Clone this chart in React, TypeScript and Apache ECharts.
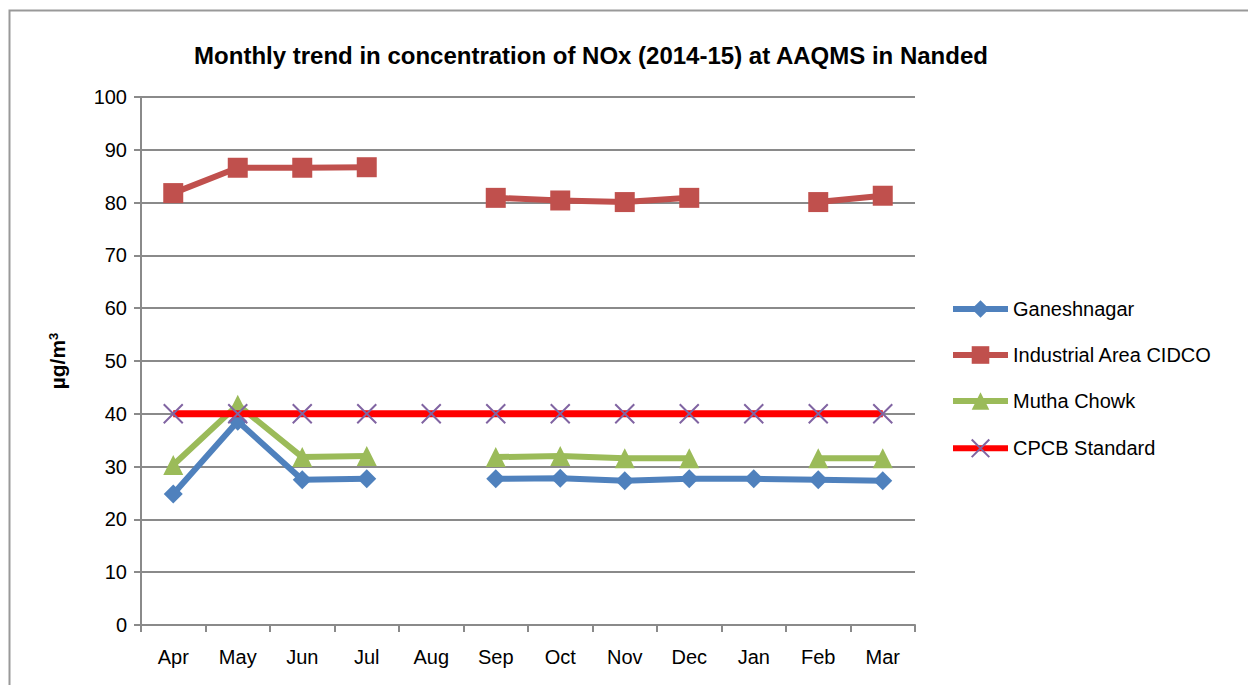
import React, { useEffect, useRef } from "react";
import * as echarts from "echarts";

const months = ["Apr", "May", "Jun", "Jul", "Aug", "Sep", "Oct", "Nov", "Dec", "Jan", "Feb", "Mar"];
const ganeshnagar = [24.8, 38.6, 27.5, 27.7, null, 27.7, 27.8, 27.3, 27.7, 27.7, 27.5, 27.3];
const industrialCidco = [81.8, 86.6, 86.6, 86.7, null, 80.9, 80.4, 80.1, 80.9, null, 80.1, 81.3];
const muthaChowk = [30.3, 41.7, 31.8, 32.0, null, 31.8, 32.0, 31.6, 31.6, null, 31.6, 31.6];
const cpcbStandard = [40, 40, 40, 40, 40, 40, 40, 40, 40, 40, 40, 40];
const yTicks = { min: 0, max: 100, interval: 10 };
const seriesNames = ["Ganeshnagar", "Industrial Area CIDCO", "Mutha Chowk", "CPCB Standard"];

const FONT = "'Liberation Sans', Arial, sans-serif";

export default function App() {
  const ref = useRef<HTMLDivElement>(null);
  useEffect(() => {
    if (!ref.current) return;
    const chart = echarts.init(ref.current, null, { renderer: "svg" });
    const grey = "#8a8a8a";
    chart.setOption({
      animation: false,
      backgroundColor: "#ffffff",
      title: {
        text: "Monthly trend in concentration of NOx (2014-15) at AAQMS in Nanded",
        left: 586,
        textAlign: "center",
        top: 38,
        textStyle: { fontFamily: FONT, fontWeight: "bold", fontSize: 24, color: "#000" },
      },
      graphic: [
        {
          type: "rect",
          shape: { x: 9.5, y: 10.5, width: 1260, height: 700 },
          style: { fill: "none", stroke: "#999", lineWidth: 2 },
          silent: true,
          z: -10,
        },
      ],
      legend: {
        orient: "vertical",
        left: 945,
        top: 294,
        itemWidth: 55,
        itemHeight: 22,
        itemGap: 26,
        textStyle: { fontFamily: FONT, fontSize: 20, color: "#000" },
        data: seriesNames.map((n) => ({ name: n, lineStyle: { width: 6 } })),
      },
      grid: { left: 141, right: 333, top: 97, bottom: 60, containLabel: false },
      xAxis: {
        type: "category",
        data: months,
        boundaryGap: true,
        axisLine: { lineStyle: { color: grey, width: 2 } },
        axisTick: { show: true, length: 7, alignWithLabel: false, lineStyle: { color: grey, width: 2 } },
        axisLabel: { fontFamily: FONT, fontSize: 20, color: "#000", margin: 22 },
        splitLine: { show: false },
      },
      yAxis: {
        type: "value",
        min: yTicks.min,
        max: yTicks.max,
        interval: yTicks.interval,
        name: "{a|µg/m}{s|3}",
        nameLocation: "middle",
        nameGap: 73,
        nameRotate: 90,
        nameTextStyle: {
          fontFamily: FONT,
          fontWeight: "bold",
          fontSize: 21,
          color: "#000",
          rich: {
            a: { fontFamily: FONT, fontWeight: "bold", fontSize: 21, color: "#000" },
            s: { fontFamily: FONT, fontWeight: "bold", fontSize: 13, color: "#000", verticalAlign: "top", padding: [0, 0, 8, 0] },
          },
        },
        axisLine: { show: true, lineStyle: { color: grey, width: 2 } },
        axisTick: { show: true, length: 7, lineStyle: { color: grey, width: 2 } },
        axisLabel: { fontFamily: FONT, fontSize: 20, color: "#000", margin: 14 },
        splitLine: { show: true, lineStyle: { color: grey, width: 2 } },
      },
      series: [
        {
          name: seriesNames[0],
          type: "line",
          data: ganeshnagar,
          symbol: "diamond",
          symbolSize: 19,
          lineStyle: { width: 6, color: "#4F81BD" },
          itemStyle: { color: "#4F81BD" },
          z: 3,
        },
        {
          name: seriesNames[1],
          type: "line",
          data: industrialCidco,
          symbol: "rect",
          symbolSize: 20,
          lineStyle: { width: 6, color: "#C0504D" },
          itemStyle: { color: "#C0504D" },
          z: 3,
        },
        {
          name: seriesNames[2],
          type: "line",
          data: muthaChowk,
          symbol: "triangle",
          symbolSize: 20,
          lineStyle: { width: 6, color: "#9BBB59" },
          itemStyle: { color: "#9BBB59" },
          z: 4,
        },
        {
          name: seriesNames[3],
          type: "line",
          data: cpcbStandard,
          symbol: "path://M0,0L10,10M10,0L0,10",
          symbolSize: 19,
          lineStyle: { width: 7, color: "#FF0000" },
          itemStyle: { color: "none", borderColor: "#8064A2", borderWidth: 2 },
          z: 5,
        },
      ],
    });
    return () => chart.dispose();
  }, []);
  return (
    <div
      ref={ref}
      style={{ position: "absolute", left: 0, top: 0, width: 1248, height: 685 }}
    />
  );
}
